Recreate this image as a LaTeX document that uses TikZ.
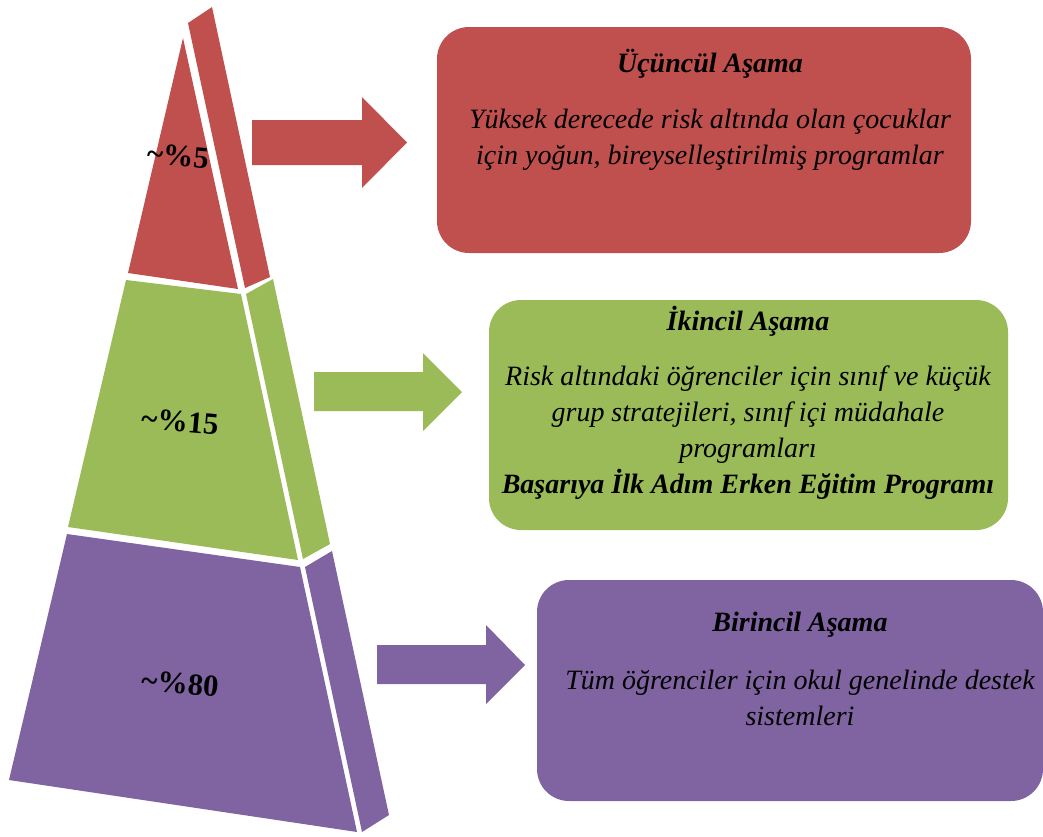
\documentclass[tikz,border=0pt]{standalone}
\usepackage{fontspec}
\setmainfont{Liberation Serif}
\definecolor{tierred}{HTML}{C0504D}
\definecolor{tiergreen}{HTML}{9BBB59}
\definecolor{tierpurple}{HTML}{8064A2}
\tikzset{
  tierbox/.style={rounded corners=24pt, inner sep=0pt},
  tiertext/.style={align=center, anchor=base, text=black,
    font=\fontsize{21}{27}\selectfont\itshape},
  share/.style={font=\fontsize{23}{28}\selectfont\bfseries, rotate=-5},
}
\begin{document}
\begin{tikzpicture}[x=0.75pt, y=-0.75pt]
  \useasboundingbox (0,0) rectangle (1043,836);
  % pyramid, front and side faces
  \fill[tierred] (183,38) -- (238,289) -- (128,273) -- cycle;
  \fill[tierred] (188,23) -- (212,7) -- (270,277) -- (245,288) -- cycle;
  \fill[tiergreen] (126,280) -- (241,294) -- (298,560) -- (68,527) -- cycle;
  \fill[tiergreen] (246,294) -- (273,279) -- (330,544) -- (303,559) -- cycle;
  \fill[tierpurple] (67,534) -- (300,567) -- (357,832) -- (9,780) -- cycle;
  \fill[tierpurple] (305,567) -- (332,551) -- (389,815) -- (362,832) -- cycle;
  \node[share] (p5) at (178,156) {\textasciitilde\%5};
  \node[share] (p15) at (180,422) {\textasciitilde\%15};
  \node[share] (p80) at (180,684) {\textasciitilde\%80};
  % block arrows
  \fill[tierred] (252,120) -- (362,120) -- (362,97) -- (407,142.5) -- (362,188) -- (362,165) -- (252,165) -- cycle;
  \fill[tiergreen] (314,372) -- (423,372) -- (423,353) -- (462,392) -- (423,431) -- (423,411) -- (314,411) -- cycle;
  \fill[tierpurple] (377,645) -- (486,645) -- (486,625) -- (525,665) -- (486,704) -- (486,684) -- (377,684) -- cycle;
  % boxes
  \node[tierbox, fill=tierred, minimum width=400.5pt, minimum height=169.5pt] (tertiary) at (704,140) {};
  \node[tierbox, fill=tiergreen, minimum width=389.25pt, minimum height=172.5pt] (secondary) at (748.5,415) {};
  \node[tierbox, fill=tierpurple, minimum width=379.5pt, minimum height=165.75pt] (primary) at (790,690.5) {};
  % texts, placed at the baseline of their last line
  \node[tiertext] (tertiarytext) at (710,164) {{\bfseries Üçüncül Aşama}\\[15pt]
    Yüksek derecede risk altında olan çocuklar\\
    için yoğun, bireyselleştirilmiş programlar};
  \node[tiertext] (secondarytext) at (748,493) {{\bfseries İkincil Aşama}\\[14pt]
    Risk altındaki öğrenciler için sınıf ve küçük\\
    grup stratejileri, sınıf içi müdahale\\
    programları\\
    {\bfseries Başarıya İlk Adım Erken Eğitim Programı}};
  \node[tiertext] (primarytext) at (800,725) {{\bfseries Birincil Aşama}\\[16pt]
    Tüm öğrenciler için okul genelinde destek\\
    sistemleri};
\end{tikzpicture}
\end{document}
